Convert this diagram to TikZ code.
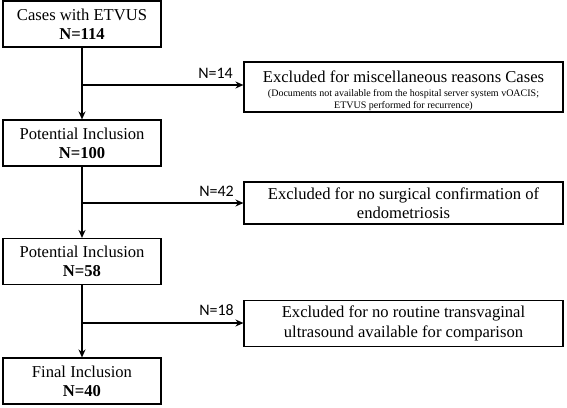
\documentclass[tikz,border=0pt]{standalone}
\usepackage{fontspec}
\setmainfont{Liberation Serif}
\newfontfamily\labfont{Carlito}
\usetikzlibrary{arrows.meta}
\begin{document}
\begin{tikzpicture}[x=1pt,y=-1pt,
  box/.style={draw, line width=1.1pt, minimum width=158pt, minimum height=46pt, inner sep=0pt, align=center, font=\fontsize{16.6}{19}\selectfont},
  excl/.style={draw, line width=1.1pt, minimum width=319pt, inner sep=0pt, align=center, font=\fontsize{16.6}{19.5}\selectfont},
  lab/.style={font=\labfont\fontsize{16}{19}\selectfont, inner sep=0pt, anchor=east},
  arr/.style={line width=1.6pt, -{Stealth[length=8pt,width=7pt]}}]
\useasboundingbox (0,0) rectangle (567,407);
% main boxes
\node[box] (b1) at (82,24) {Cases with ETVUS\\\textbf{N=114}};
\node[box] (b2) at (82,143) {Potential Inclusion\\\textbf{N=100}};
\node[box] (b3) at (82,261.5) {Potential Inclusion\\\textbf{N=58}};
\node[box] (b4) at (82,381) {Final Inclusion\\\textbf{N=40}};
% exclusion boxes
\node[excl, minimum height=50pt] (e1) at (403.5,87) {\rule{0pt}{20pt}Excluded for miscellaneous reasons Cases\\[-6pt]
  \fontsize{10}{11.5}\selectfont (Documents not available from the hospital server system vOACIS;\\[-7pt]
  \fontsize{10}{11.5}\selectfont ETVUS performed for recurrence)};
\node[excl, minimum height=42pt] (e2) at (403.5,203) {Excluded for no surgical confirmation of\\endometriosis};
\node[excl, minimum height=46pt] (e3) at (403.5,323.5) {Excluded for no routine transvaginal\\ultrasound available for comparison};
% branch points
\coordinate (c1) at (82,85);
\coordinate (c2) at (82,203);
\coordinate (c3) at (82,323);
% vertical arrows
\draw[arr] (b1) -- (b2);
\draw[arr] (b2) -- (b3);
\draw[arr] (b3) -- (b4);
% horizontal arrows
\draw[arr] (c1) -- (c1 -| e1.west);
\draw[arr] (c2) -- (c2 -| e2.west);
\draw[arr] (c3) -- (c3 -| e3.west);
% labels
\node[lab] (l1) at (233,73) {N=14};
\node[lab] (l2) at (234,191) {N=42};
\node[lab] (l3) at (234,310) {N=18};
\end{tikzpicture}
\end{document}
